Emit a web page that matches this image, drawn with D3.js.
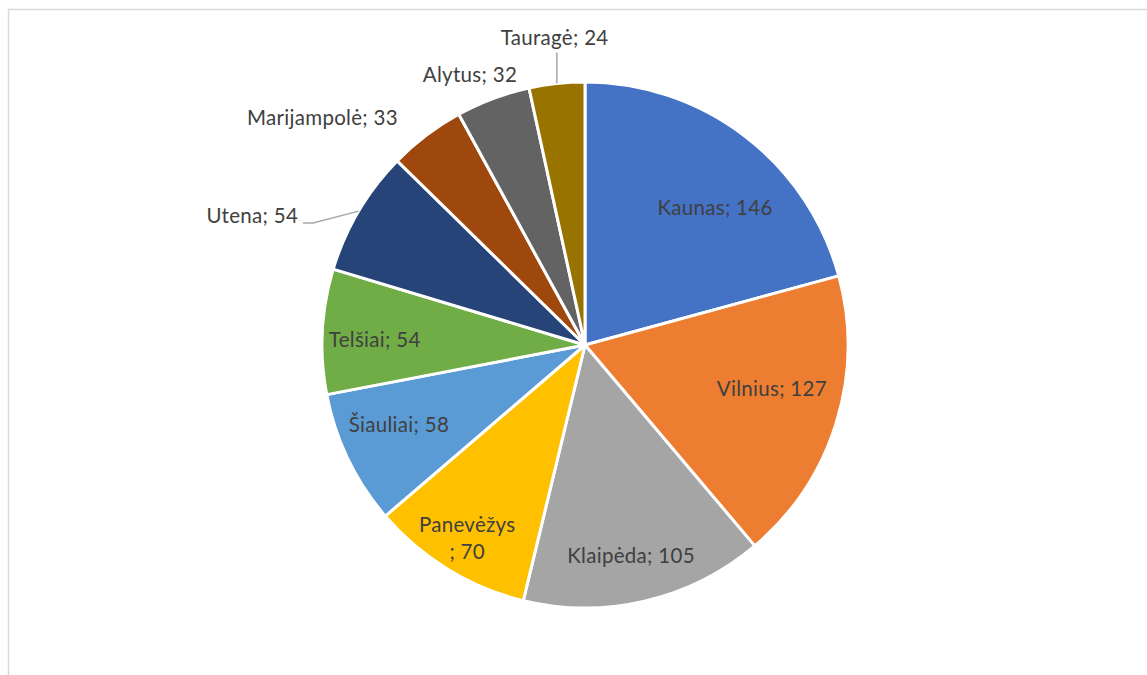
<html>
<script src="https://d3js.org/d3.v7.min.js"></script>
<style>
  body { margin: 0; background: #fff; }
  text { font-family: Lato, "Open Sans", sans-serif; }
</style>
<body>
<svg width="1147" height="675"></svg>
<script>
var regions = ["Kaunas", "Vilnius", "Klaipėda", "Panevėžys", "Šiauliai", "Telšiai", "Utena", "Marijampolė", "Alytus", "Tauragė"];
var counts = [146, 127, 105, 70, 58, 54, 54, 33, 32, 24];
var colors = ["#4472C4", "#ED7D31", "#A5A5A5", "#FFC000", "#5B9BD5", "#70AD47", "#264478", "#9E480E", "#636363", "#997300"];

var cx = 585, cy = 345, r = 263;

// label placement: angle shift (deg) from slice middle, radius factor
var labelLayout = [
  {da: 6, k: 0.72},
  {da: -4, k: 0.73},
  {da: 1, k: 0.82},
  {da: -0.1, k: 0.86, lines: ["Panevėžys", "; 70"]},
  {da: 2.5, k: 0.77},
  {da: -1.6, k: 0.80},
  {da: -6.4, k: 1.196, anchor: "end", leader: "elbow"},
  {da: -12, k: 1.32},
  {da: -2.6, k: 1.116},
  {da: 0.5, k: 1.175, leader: "vertical"}
];

var svg = d3.select("svg");

// chart frame
svg.append("rect")
  .attr("x", 8.5).attr("y", 9.5)
  .attr("width", 1200).attr("height", 700)
  .attr("fill", "none")
  .attr("stroke", "#d9d9d9")
  .attr("stroke-width", 1.5);

var data = regions.map(function(d, i) { return {name: d, value: counts[i], i: i}; });

var pie = d3.pie().sort(null).value(function(d) { return d.value; });
var arcs = pie(data);

var arc = d3.arc().innerRadius(0).outerRadius(r);

var g = svg.append("g").attr("transform", "translate(" + cx + "," + cy + ")");

g.selectAll("path")
  .data(arcs)
  .enter()
  .append("path")
  .attr("d", arc)
  .attr("fill", function(d) { return colors[d.data.i]; })
  .attr("stroke", "#fff")
  .attr("stroke-width", 3)
  .attr("stroke-linejoin", "round");

function polar(angle, rad) {
  return [Math.sin(angle) * rad, -Math.cos(angle) * rad];
}

arcs.forEach(function(a, i) {
  var L = labelLayout[i];
  var mid = (a.startAngle + a.endAngle) / 2;
  var p = polar(mid + L.da * Math.PI / 180, r * L.k);
  var txt = a.data.name + "; " + a.data.value;

  if (L.leader) {
    var e = polar(mid, r);
    var pts;
    if (L.leader == "elbow") {
      pts = [[p[0] + 5, p[1] + 7], [p[0] + 15, p[1] + 7], e];
    } else {
      pts = [[e[0], p[1] + 15], e];
    }
    g.append("path")
      .attr("d", d3.line()(pts))
      .attr("fill", "none")
      .attr("stroke", "#a6a6a6")
      .attr("stroke-width", 1.5);
  }

  var t = g.append("text")
    .attr("x", p[0])
    .attr("y", p[1])
    .attr("text-anchor", L.anchor || "middle")
    .attr("font-size", 20.5)
    .attr("letter-spacing", 0.3)
    .attr("fill", "#404040");

  var lines = L.lines || [txt];
  lines.forEach(function(s, j) {
    t.append("tspan")
      .attr("x", p[0])
      .attr("dy", j == 0 ? (0.35 - (lines.length - 1) * 0.65) + "em" : "1.3em")
      .text(s);
  });
});
</script>
</body>
</html>
